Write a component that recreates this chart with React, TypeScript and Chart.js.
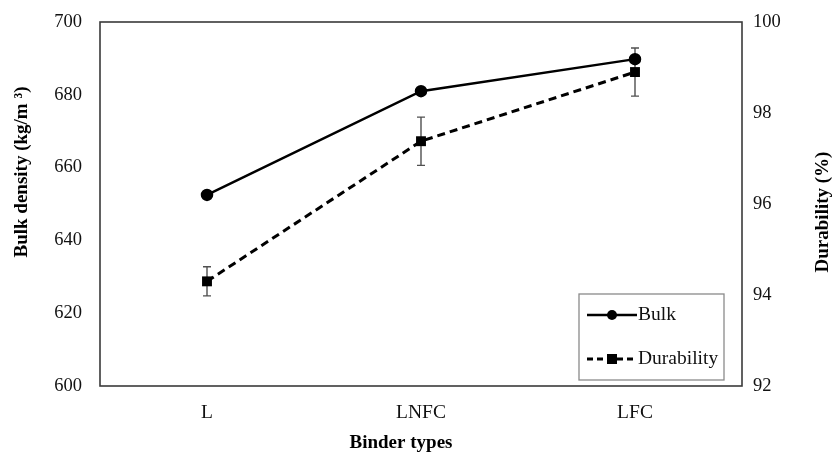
import React, { useEffect, useRef } from "react";
import { Chart, registerables } from "chart.js";

Chart.register(...registerables);

const categories = ["L", "LNFC", "LFC"];
const bulkDensity = [652.5, 681, 689.8];
const durability = [94.3, 97.38, 98.9];
const durabilityError = [0.32, 0.53, 0.53];
const bulkAxis = [600, 700, 20]; // min, max, step
const durabilityAxis = [92, 100, 2]; // min, max, step
const leftTitle = "Bulk density (kg/m \u00B3)";
const rightTitle = "Durability (%)";
const xTitle = "Binder types";
const legendLabels = ["Bulk", "Durability"];

const SERIF = "'Liberation Serif', 'Times New Roman', serif";

const extrasPlugin = {
  id: "extras",
  beforeDatasetsDraw(chart: any) {
    const ctx = chart.ctx;
    const y2 = chart.scales.y2;
    const meta = chart.getDatasetMeta(1);
    ctx.save();
    ctx.strokeStyle = "#505050";
    ctx.lineWidth = 1.4;
    meta.data.forEach((pt: any, i: number) => {
      const x = pt.x;
      const yTop = y2.getPixelForValue(durability[i] + durabilityError[i]);
      const yBot = y2.getPixelForValue(durability[i] - durabilityError[i]);
      ctx.beginPath();
      ctx.moveTo(x, yTop);
      ctx.lineTo(x, yBot);
      ctx.moveTo(x - 4, yTop);
      ctx.lineTo(x + 4, yTop);
      ctx.moveTo(x - 4, yBot);
      ctx.lineTo(x + 4, yBot);
      ctx.stroke();
    });
    ctx.restore();
  },
  afterDraw(chart: any) {
    const ctx = chart.ctx;
    const a = chart.chartArea;
    ctx.save();
    // plot frame
    ctx.strokeStyle = "#3a3a3a";
    ctx.lineWidth = 1.6;
    ctx.strokeRect(a.left, a.top, a.right - a.left, a.bottom - a.top);

    // legend box
    const bl = a.right - 163;
    const br = a.right - 18;
    const bt = a.bottom - 92;
    const bb = a.bottom - 6;
    ctx.fillStyle = "#fff";
    ctx.fillRect(bl, bt, br - bl, bb - bt);
    ctx.strokeStyle = "#8a8a8a";
    ctx.lineWidth = 1.3;
    ctx.strokeRect(bl, bt, br - bl, bb - bt);

    const rows = [a.bottom - 71, a.bottom - 27];
    const x0 = bl + 8;
    const x1 = bl + 58;
    const mx = (x0 + x1) / 2;
    ctx.strokeStyle = "#000";
    ctx.fillStyle = "#000";
    // Bulk sample
    ctx.lineWidth = 2.5;
    ctx.setLineDash([]);
    ctx.beginPath();
    ctx.moveTo(x0, rows[0]);
    ctx.lineTo(x1, rows[0]);
    ctx.stroke();
    ctx.beginPath();
    ctx.arc(mx, rows[0], 5, 0, Math.PI * 2);
    ctx.fill();
    // Durability sample
    ctx.lineWidth = 3;
    ctx.setLineDash([6, 4]);
    ctx.beginPath();
    ctx.moveTo(x0, rows[1]);
    ctx.lineTo(x1, rows[1]);
    ctx.stroke();
    ctx.setLineDash([]);
    ctx.fillRect(mx - 5, rows[1] - 5, 10, 10);

    ctx.font = `19.5px ${SERIF}`;
    ctx.textAlign = "left";
    ctx.textBaseline = "middle";
    ctx.fillStyle = "#111";
    ctx.fillText(legendLabels[0], x1 + 1, rows[0]);
    ctx.fillText(legendLabels[1], x1 + 1, rows[1]);

    // axis titles
    ctx.font = `bold 19px ${SERIF}`;
    ctx.textAlign = "center";
    ctx.fillStyle = "#000";
    ctx.save();
    ctx.translate(22, 172);
    ctx.rotate(-Math.PI / 2);
    ctx.fillText(leftTitle, 0, 0);
    ctx.restore();
    ctx.save();
    ctx.translate(823, 212);
    ctx.rotate(-Math.PI / 2);
    ctx.fillText(rightTitle, 0, 0);
    ctx.restore();
    ctx.fillText(xTitle, 401, 443);
    ctx.restore();
  },
};

export default function App() {
  const ref = useRef<HTMLCanvasElement>(null);
  useEffect(() => {
    Chart.defaults.font.family = SERIF;
    Chart.defaults.color = "#111";
    const fitVertical = (w: number) => (s: any) => {
      s.width = w;
      s.paddingTop = 0;
      s.paddingBottom = 0;
    };
    const chart = new Chart(ref.current as HTMLCanvasElement, {
      type: "line",
      data: {
        labels: categories,
        datasets: [
          {
            label: legendLabels[0],
            data: bulkDensity,
            yAxisID: "y",
            borderColor: "#000",
            backgroundColor: "#000",
            borderWidth: 2.5,
            pointStyle: "circle",
            pointRadius: 5,
            pointBackgroundColor: "#000",
            pointBorderColor: "#000",
            tension: 0,
          },
          {
            label: legendLabels[1],
            data: durability,
            yAxisID: "y2",
            borderColor: "#000",
            backgroundColor: "#000",
            borderWidth: 3,
            borderDash: [8, 5],
            pointStyle: "rect",
            pointRadius: 7,
            pointBackgroundColor: "#000",
            pointBorderColor: "#000",
            pointBorderWidth: 0,
            tension: 0,
          },
        ],
      },
      options: {
        responsive: false,
        devicePixelRatio: 1,
        animation: false,
        layout: { padding: { top: 22, left: 0, right: 0, bottom: 0 } },
        plugins: { legend: { display: false }, tooltip: { enabled: false } },
        scales: {
          x: {
            type: "category",
            offset: true,
            grid: { display: false, drawTicks: false },
            border: { display: false },
            ticks: { font: { size: 19.5 }, padding: 15, color: "#111" },
            afterFit: (s: any) => {
              s.height = 69;
              s.paddingLeft = 0;
              s.paddingRight = 0;
            },
          },
          y: {
            position: "left",
            min: bulkAxis[0],
            max: bulkAxis[1],
            grid: { display: false, drawTicks: false },
            border: { display: false },
            ticks: { stepSize: bulkAxis[2], font: { size: 18.5 }, padding: 18, color: "#111" },
            afterFit: fitVertical(100),
          },
          y2: {
            position: "right",
            min: durabilityAxis[0],
            max: durabilityAxis[1],
            grid: { display: false, drawTicks: false },
            border: { display: false },
            ticks: { stepSize: durabilityAxis[2], font: { size: 18.5 }, padding: 11, color: "#111" },
            afterFit: fitVertical(90),
          },
        },
      },
      plugins: [extrasPlugin],
    } as any);
    return () => chart.destroy();
  }, []);
  return (
    <div style={{ position: "fixed", left: 0, top: 0, width: 832, height: 455, background: "#fff" }}>
      <canvas ref={ref} width={832} height={455} style={{ display: "block", width: 832, height: 455 }} />
    </div>
  );
}
